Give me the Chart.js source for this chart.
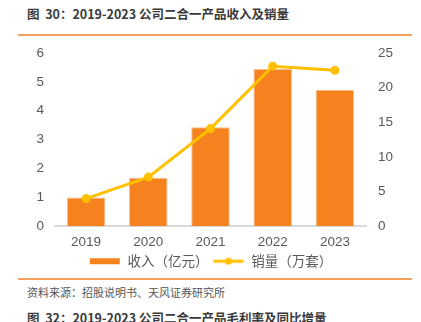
<!DOCTYPE html>
<html>
<head>
<meta charset="utf-8">
<script src="https://cdn.jsdelivr.net/npm/chart.js@4.4.1/dist/chart.umd.min.js"></script>
<style>
  html, body { margin: 0; padding: 0; background: #fff; }
  body { width: 421px; height: 322px; position: relative; overflow: hidden;
         font-family: "Noto Sans CJK SC", "Liberation Sans", sans-serif; }
  .title { position: absolute; left: 27px; font-size: 12.5px; font-weight: bold; color: #3a3a3a; white-space: pre; }
  .rule { position: absolute; left: 18px; width: 394px; height: 2px; background: #F4A261; }
  .source { position: absolute; left: 27px; top: 284px; font-size: 11px; color: #555; white-space: nowrap; }
  #wrap { position: absolute; left: 0; top: 38px; width: 421px; height: 240px; }
</style>
</head>
<body>
<div class="title" style="top:4px">图  30：2019-2023 公司二合一产品收入及销量</div>
<div class="rule" style="top:34px"></div>
<div id="wrap"><canvas id="chart"></canvas></div>
<div class="rule" style="top:278px"></div>
<div class="source">资料来源：招股说明书、天风证券研究所</div>
<div class="title" style="top:308px">图  32：2019-2023 公司二合一产品毛利率及同比增量</div>
<script>
const years = ["2019", "2020", "2021", "2022", "2023"];
const revenue = [1.0, 1.68, 3.43, 5.45, 4.73];
const sales = [4.0, 7.1, 14.1, 23.1, 22.5];
const revenueLabel = "收入（亿元）";
const salesLabel = "销量（万套）";

const barColor = "#F5821F";
const lineColor = "#FFC000";
const tickColor = "#595959";
const tickFont = { size: 13.5, family: "'Liberation Sans', Arial, sans-serif" };

function legendIcon(kind, color) {
    const c = document.createElement("canvas");
    c.width = 32;
    c.height = 10;
    const ctx = c.getContext("2d");
    ctx.fillStyle = color;
    ctx.strokeStyle = color;
    if (kind === "bar") {
        ctx.fillRect(1, 2, 30, 6);
    } else {
        ctx.lineWidth = 3;
        ctx.beginPath();
        ctx.moveTo(1, 5);
        ctx.lineTo(31, 5);
        ctx.stroke();
        ctx.beginPath();
        ctx.arc(16, 5, 3.5, 0, Math.PI * 2);
        ctx.fill();
    }
    return c;
}

new Chart(document.getElementById("chart"), {
    data: {
        labels: years,
        datasets: [
            {
                type: "bar",
                label: revenueLabel,
                data: revenue,
                yAxisID: "y",
                backgroundColor: barColor,
                borderColor: "#F9C08E",
                borderWidth: 1,
                barPercentage: 0.62,
                categoryPercentage: 1,
                order: 1,
            },
            {
                type: "line",
                label: salesLabel,
                data: sales,
                yAxisID: "y1",
                borderColor: lineColor,
                backgroundColor: lineColor,
                borderWidth: 3,
                pointRadius: 4.5,
                pointBackgroundColor: lineColor,
                pointBorderWidth: 0,
                tension: 0,
                order: 0,
            },
        ],
    },
    options: {
        responsive: true,
        maintainAspectRatio: false,
        animation: false,
        layout: { padding: { top: 15, left: 0, right: 0, bottom: 0 } },
        plugins: {
            tooltip: { enabled: false },
            legend: {
                position: "bottom",
                labels: {
                    usePointStyle: true,
                    pointStyleWidth: 32,
                    padding: 4,
                    color: tickColor,
                    font: { size: 13.5, family: "'Noto Sans CJK SC', sans-serif" },
                    generateLabels: () => [
                        { text: revenueLabel, pointStyle: legendIcon("bar", barColor), fontColor: tickColor, lineWidth: 0, datasetIndex: 0 },
                        { text: salesLabel, pointStyle: legendIcon("line", lineColor), fontColor: tickColor, lineWidth: 0, datasetIndex: 1 },
                    ],
                },
            },
        },
        scales: {
            x: {
                grid: { display: false },
                border: { color: "#D9D9D9", width: 2 },
                ticks: { color: tickColor, font: tickFont, padding: 0 },
                afterFit: (scale) => { scale.paddingLeft = 0; scale.paddingRight = 0; },
            },
            y: {
                position: "left",
                min: 0,
                max: 6,
                ticks: { stepSize: 1, color: tickColor, padding: 3, font: tickFont },
                grid: { display: false },
                border: { display: false },
                afterFit: (scale) => { scale.width = 55; },
            },
            y1: {
                position: "right",
                min: 0,
                max: 25,
                ticks: { stepSize: 5, color: tickColor, padding: 4, font: tickFont },
                grid: { display: false },
                border: { display: false },
                afterFit: (scale) => { scale.width = 55; },
            },
        },
    },
});
</script>
</body>
</html>
